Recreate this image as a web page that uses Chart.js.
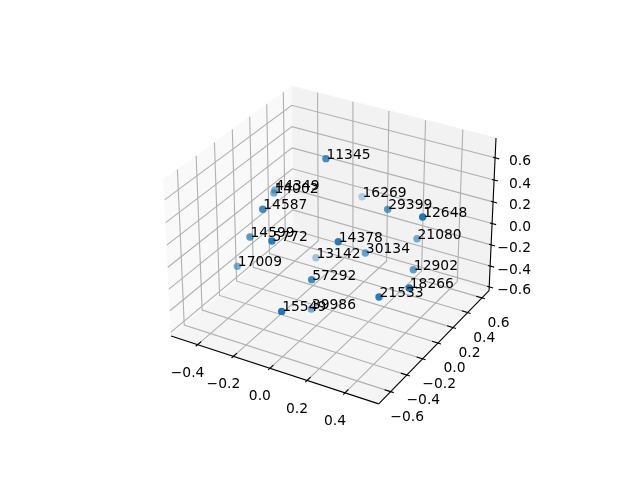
<!DOCTYPE html>
<html>
<head>
<meta charset="utf-8">
<style>
  html, body { margin: 0; padding: 0; background: #fff; }
  canvas { display: block; }
</style>
<script src="https://cdn.jsdelivr.net/npm/chart.js@4/dist/chart.umd.min.js"></script>
</head>
<body>
<canvas id="chart" width="640" height="480"></canvas>
<script>
// values, the depth of each point estimated from its shade
const pointLabels = ['11345', '44349', '14002', '14587', '16269', '29399', '12648', '14599', '5772', '14378',
  '13142', '17009', '57292', '15549', '39986', '30134', '21080', '12902', '18266', '21533'];
const xValues = [-0.038, -0.363, -0.336, -0.224, -0.118, 0.229, 0.498, -0.299, -0.096, 0.168,
  -0.188, -0.400, 0.054, 0.050, -0.042, 0.140, 0.312, 0.381, 0.526, 0.393];
const yValues = [0.006, 0.095, 0.027, -0.333, 0.638, 0.156, -0.054, -0.331, -0.499, -0.306,
  0.209, -0.281, -0.368, -0.705, -0.167, 0.090, 0.345, 0.134, -0.273, -0.327];
const zValues = [0.735, 0.254, 0.281, 0.410, -0.033, 0.313, 0.505, 0.124, 0.296, 0.292,
  -0.371, -0.229, -0.064, -0.118, -0.525, -0.086, -0.037, -0.150, 0.036, -0.076];

const xTicks = [-0.4, -0.2, 0, 0.2, 0.4];
const yTicks = [-0.6, -0.4, -0.2, 0, 0.2, 0.4, 0.6];
const zTicks = [-0.6, -0.4, -0.2, 0, 0.2, 0.4, 0.6];
const xLimits = [-0.55, 0.575];
const yLimits = [-0.744, 0.70];
const zLimits = [-0.637, 0.776];

// same camera as a default mplot3d axes: elev 30, azim -60, box aspect 4:4:3
const boxSize = [1.1905, 1.1905, 0.8929];
const camU = [0.866, 0.5, 0];
const camV = [-0.25, 0.433, 0.866];
const camW = [0.433, -0.75, 0.5];
const camDist = 10;
const viewScale = 1997.8;
const viewCenter = [333, 237.4];

const dot = (a, b) => a[0] * b[0] + a[1] * b[1] + a[2] * b[2];

function toBox(x, y, z) {
  return [
    ((x - xLimits[0]) / (xLimits[1] - xLimits[0]) - 0.5) * boxSize[0],
    ((y - yLimits[0]) / (yLimits[1] - yLimits[0]) - 0.5) * boxSize[1],
    ((z - zLimits[0]) / (zLimits[1] - zLimits[0]) - 0.5) * boxSize[2],
  ];
}

function project(x, y, z) {
  const q = toBox(x, y, z);
  const w = camDist - dot(camW, q);
  return {
    x: viewCenter[0] + viewScale * dot(camU, q) / w,
    y: viewCenter[1] - viewScale * dot(camV, q) / w,
  };
}

const lineSet = (points, color, width, order) => ({
  data: points.map((p) => project(p[0], p[1], p[2])),
  showLine: true,
  pointRadius: 0,
  borderColor: color,
  borderWidth: width,
  tension: 0,
  order: order,
  clip: false,
});

const paneSet = (points, color) => ({
  ...lineSet([...points, points[0]], color, 1, 5),
  fill: 'shape',
  backgroundColor: color,
});

const [x0, x1] = xLimits;
const [y0, y1] = yLimits;
const [z0, z1] = zLimits;
const GRID = '#b0b0b0';
const AXIS = '#000000';

const datasets = [
  paneSet([[x0, y0, z0], [x0, y1, z0], [x0, y1, z1], [x0, y0, z1]], '#f9f9f9'),
  paneSet([[x0, y1, z0], [x1, y1, z0], [x1, y1, z1], [x0, y1, z1]], '#f2f2f2'),
  paneSet([[x0, y0, z0], [x1, y0, z0], [x1, y1, z0], [x0, y1, z0]], '#f5f5f5'),
];

xTicks.forEach((t) => {
  datasets.push(lineSet([[t, y0, z0], [t, y1, z0], [t, y1, z1]], GRID, 1.1, 4));
  const d = y1 - y0;
  datasets.push(lineSet([[t, y0 - d * 0.014, z0], [t, y0 + d * 0.028, z0]], AXIS, 1.1, 2));
});
yTicks.forEach((t) => {
  datasets.push(lineSet([[x1, t, z0], [x0, t, z0], [x0, t, z1]], GRID, 1.1, 4));
  const d = x1 - x0;
  datasets.push(lineSet([[x1 + d * 0.014, t, z0], [x1 - d * 0.028, t, z0]], AXIS, 1.1, 2));
});
zTicks.forEach((t) => {
  datasets.push(lineSet([[x1, y1, t], [x0, y1, t], [x0, y0, t]], GRID, 1.1, 4));
  const d = x1 - x0;
  datasets.push(lineSet([[x1 + d * 0.019, y1, t], [x1 - d * 0.01, y1, t]], AXIS, 1.1, 2));
});

datasets.push(lineSet([[x0, y0, z0], [x1, y0, z0]], AXIS, 1.1, 3));
datasets.push(lineSet([[x1, y0, z0], [x1, y1, z0]], AXIS, 1.1, 3));
datasets.push(lineSet([[x1, y1, z0], [x1, y1, z1]], AXIS, 1.1, 3));

// depth shading: nearest point is opaque, farthest is 0.3, far ones drawn first
const depths = pointLabels.map((_, i) => dot(camW, toBox(xValues[i], yValues[i], zValues[i])));
const minDepth = Math.min(...depths);
const maxDepth = Math.max(...depths);
const drawOrder = pointLabels.map((_, i) => i).sort((a, b) => depths[a] - depths[b]);
const pointColors = drawOrder.map((i) => {
  const alpha = 0.3 + 0.7 * (depths[i] - minDepth) / (maxDepth - minDepth);
  return 'rgba(31,119,180,' + alpha.toFixed(3) + ')';
});

datasets.push({
  data: drawOrder.map((i) => project(xValues[i], yValues[i], zValues[i])),
  pointRadius: 3.7,
  pointBorderWidth: 0,
  pointBackgroundColor: pointColors,
  order: 1,
  clip: false,
});

const FONT = '13.89px "DejaVu Sans"';
const fmt = (t) => t.toFixed(1).replace('-', '\u2212');

const textPlugin = {
  id: 'texts',
  afterDraw(chart) {
    const ctx = chart.ctx;
    const sx = chart.scales.x;
    const sy = chart.scales.y;
    ctx.save();
    ctx.font = FONT;
    ctx.fillStyle = '#000';

    ctx.textAlign = 'center';
    ctx.textBaseline = 'middle';
    xTicks.forEach((t) => {
      const p = project(t, y0, z0);
      ctx.fillText(fmt(t), sx.getPixelForValue(p.x - 10), sy.getPixelForValue(p.y + 28.5));
    });
    yTicks.forEach((t) => {
      const p = project(x1, t, z0);
      ctx.fillText(fmt(t), sx.getPixelForValue(p.x + 16.5), sy.getPixelForValue(p.y + 25.5));
    });
    ctx.textAlign = 'right';
    zTicks.forEach((t) => {
      const p = project(x1, y1, t);
      ctx.fillText(fmt(t), sx.getPixelForValue(531), sy.getPixelForValue(p.y + 4));
    });

    ctx.textAlign = 'left';
    ctx.textBaseline = 'alphabetic';
    pointLabels.forEach((label, i) => {
      const p = project(xValues[i], yValues[i], zValues[i]);
      ctx.fillText(label, sx.getPixelForValue(p.x + 0.5), sy.getPixelForValue(p.y));
    });
    ctx.restore();
  },
};

new Chart(document.getElementById('chart'), {
  type: 'scatter',
  data: { datasets: datasets },
  options: {
    responsive: false,
    animation: false,
    layout: { padding: 0, autoPadding: false },
    plugins: { legend: { display: false }, tooltip: { enabled: false } },
    scales: {
      x: { type: 'linear', display: false, min: 0, max: 640 },
      y: { type: 'linear', display: false, min: 0, max: 480, reverse: true },
    },
  },
  plugins: [textPlugin],
});
</script>
</body>
</html>
